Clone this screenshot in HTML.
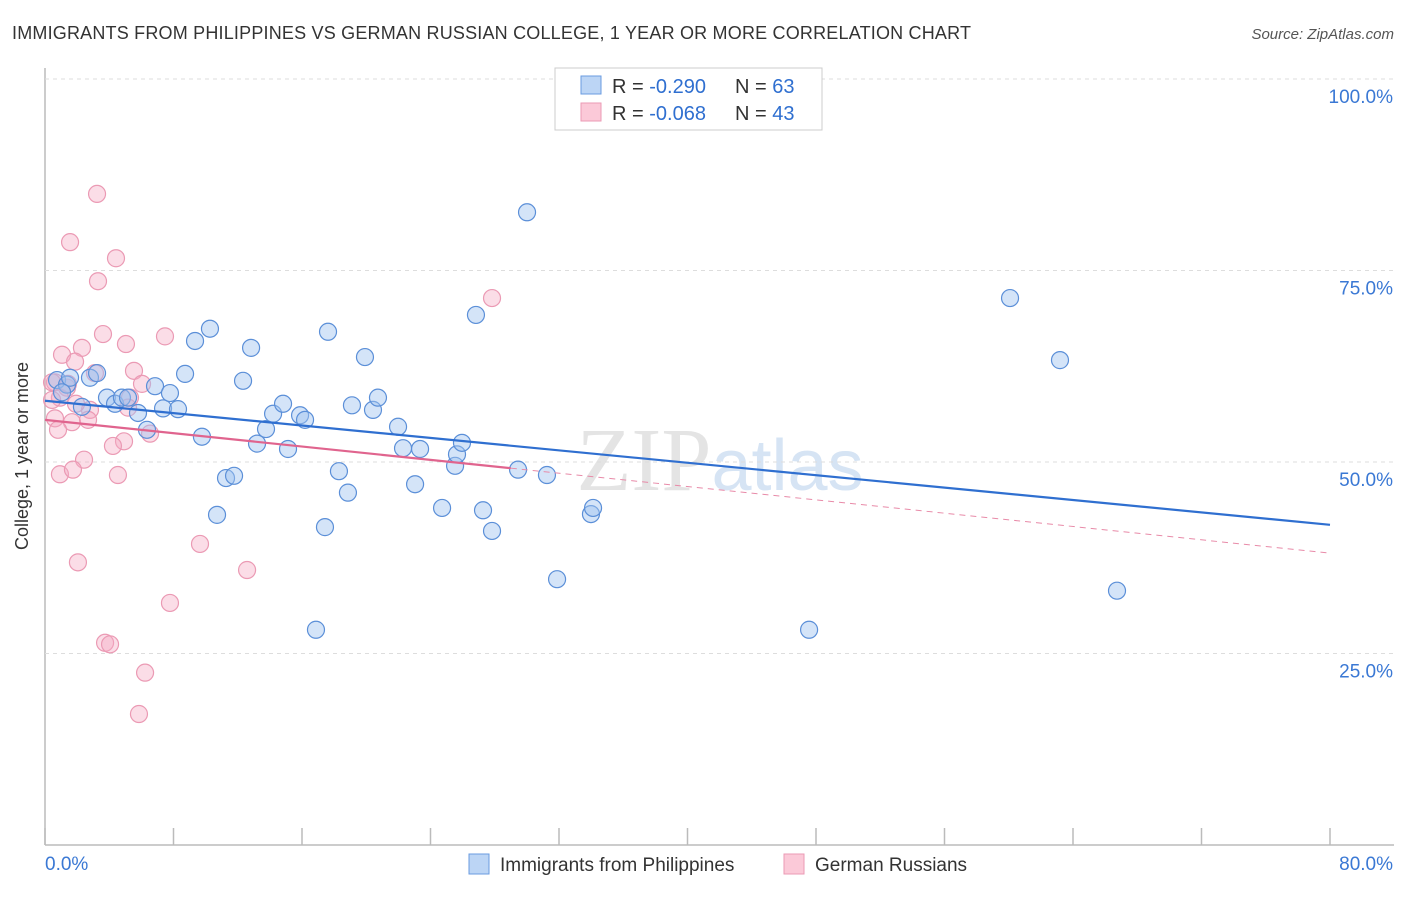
<!DOCTYPE html>
<html><head><meta charset="utf-8"><style>
body{margin:0;background:#fff;font-family:"Liberation Sans",sans-serif;}
</style></head><body>
<svg id="c" width="1406" height="892" style="font-family:'Liberation Sans',sans-serif">
<text x="12" y="39" font-size="18" textLength="959" fill="#333">IMMIGRANTS FROM PHILIPPINES VS GERMAN RUSSIAN COLLEGE, 1 YEAR OR MORE CORRELATION CHART</text>
<text x="1394" y="39" font-size="15" fill="#555" text-anchor="end" font-style="italic">Source: ZipAtlas.com</text>
<text x="720" y="490" font-size="90" fill="#e4e4e4" text-anchor="middle" font-family="Liberation Serif,serif">ZIP<tspan fill="#d6e4f4" font-family="Liberation Sans,sans-serif" font-size="72">atlas</tspan></text>
<text x="28" y="456" font-size="18" fill="#333" text-anchor="middle" transform="rotate(-90 28 456)">College, 1 year or more</text>
<g id="grid"></g><g id="pts"></g><g id="lines"></g>
<g>
<rect x="555" y="68" width="267" height="62" fill="#fff" stroke="#ccc"/>
<rect x="581" y="76" width="20" height="18" fill="#bcd5f5" stroke="#6a9be0"/>
<rect x="581" y="103" width="20" height="18" fill="#fbc9d8" stroke="#eb9ab4"/>
<text x="612" y="93" font-size="20" fill="#333">R = <tspan fill="#2f6fd0">-0.290</tspan></text>
<text x="735" y="93" font-size="20" fill="#333">N = <tspan fill="#2f6fd0">63</tspan></text>
<text x="612" y="120" font-size="20" fill="#333">R = <tspan fill="#2f6fd0">-0.068</tspan></text>
<text x="735" y="120" font-size="20" fill="#333">N = <tspan fill="#2f6fd0">43</tspan></text>
</g>
<g>
<rect x="469" y="854" width="20" height="20" fill="#bcd5f5" stroke="#6a9be0"/>
<text x="500" y="871" font-size="19" fill="#333">Immigrants from Philippines</text>
<rect x="784" y="854" width="20" height="20" fill="#fbc9d8" stroke="#eb9ab4"/>
<text x="815" y="871" font-size="19" fill="#333">German Russians</text>
</g>
</svg>
<script>
const xTickLabels=["0.0%","80.0%"];
const yTicks=[25,50,75,100];
const blueX=[0.75,1.37,1.56,1.06,2.30,2.80,3.24,3.86,4.36,4.79,5.17,5.79,6.35,6.85,7.35,7.78,8.28,8.72,9.34,9.77,10.27,10.71,11.27,11.77,12.33,12.83,13.20,13.76,14.20,14.82,15.13,15.88,16.19,16.87,17.43,17.62,18.30,18.86,19.11,19.92,20.42,20.73,21.98,22.29,23.04,23.35,24.72,25.53,25.65,25.96,26.83,27.27,27.83,29.45,30.01,31.25,31.88,33.99,34.12,47.57,60.08,63.19,66.74];
const blueY=[60.7,60.1,61.0,59.1,57.2,61.0,61.6,58.4,57.6,58.4,58.4,56.4,54.2,59.9,57.0,59.0,56.9,61.5,65.8,53.3,67.4,43.1,47.9,48.2,60.6,64.9,52.4,54.3,56.3,57.6,51.7,56.1,55.5,28.1,41.5,67.0,48.8,46.0,57.4,63.7,56.8,58.4,54.6,51.8,47.1,51.7,44.0,49.5,51.0,52.5,69.2,43.7,41.0,49.0,82.6,48.3,34.7,43.2,44.0,28.1,71.4,63.3,33.2];
const pinkX=[3.24,1.56,4.42,3.30,3.61,7.47,5.04,1.06,2.30,1.87,5.54,6.04,3.11,0.62,1.37,0.93,0.44,5.29,5.17,2.80,0.62,1.68,2.68,6.54,0.81,4.92,4.23,2.43,0.93,1.74,4.54,27.83,9.65,12.58,2.05,7.78,3.74,4.05,6.23,5.85,1.43,1.93,0.44];
const pinkY=[85.0,78.7,76.6,73.6,66.7,66.4,65.4,64.0,64.9,63.1,61.9,60.2,61.6,60.4,59.7,58.4,58.1,58.4,57.1,56.8,55.7,55.2,55.5,53.7,54.2,52.7,52.1,50.3,48.4,49.0,48.3,71.4,39.3,35.9,36.9,31.6,26.4,26.2,22.5,17.1,60.2,57.6,60.4];
const blueTrend=[58.0,41.8];
const pinkTrend=[55.5,38.1];
const pinkSolidEnd=29;
const NS="http://www.w3.org/2000/svg";
const X0=45,X1=1330,Y0=845,Y100=79;
const sx=v=>X0+(v/80)*(X1-X0);
const sy=v=>Y0-(v/100)*(Y0-Y100);
function mk(t,a,p){const e=document.createElementNS(NS,t);for(const k in a)e.setAttribute(k,a[k]);p.appendChild(e);return e;}
const grid=document.getElementById('grid');
let ax=mk('line',{x1:X0,y1:68,x2:X0,y2:Y0,stroke:'#bbb','stroke-width':1.5},grid);


let bx=mk('line',{x1:X0,y1:Y0,x2:1394,y2:Y0,stroke:'#bbb','stroke-width':1.5},grid);


yTicks.forEach(t=>{
 const g=mk('line',{x1:X0,y1:sy(t),x2:1394,y2:sy(t),stroke:'#ddd','stroke-dasharray':'4,4'},grid);
 
 
 const l=mk('text',{x:1393,y:sy(t)+24,'font-size':19,fill:'#3a78d4','text-anchor':'end'},grid);
 l.textContent=t.toFixed(1)+'%';
 
 
});
for(let i=0;i<=10;i++){
 const tk=mk('line',{x1:sx(i*8),y1:828,x2:sx(i*8),y2:Y0,stroke:'#bbb','stroke-width':1.5},grid);
 
 
}
const xl0=mk('text',{x:45,y:870,'font-size':19,fill:'#3a78d4'},grid);xl0.textContent=xTickLabels[0];


const xl1=mk('text',{x:1393,y:870,'font-size':19,fill:'#3a78d4','text-anchor':'end'},grid);xl1.textContent=xTickLabels[1];


const pts=document.getElementById('pts');
pinkX.forEach((x,i)=>{const c=mk('circle',{cx:sx(x),cy:sy(pinkY[i]),r:8.5,fill:'rgba(245,170,195,0.4)',stroke:'#eb9ab4','stroke-width':1.2},pts);
 
 });
blueX.forEach((x,i)=>{const c=mk('circle',{cx:sx(x),cy:sy(blueY[i]),r:8.5,fill:'rgba(160,195,240,0.45)',stroke:'#5b8fd8','stroke-width':1.2},pts);
 
 });
const ln=document.getElementById('lines');
const b=mk('line',{x1:sx(0),y1:sy(blueTrend[0]),x2:sx(80),y2:sy(blueTrend[1]),stroke:'#2f6fd0','stroke-width':2.2},ln);


const pv=x=>pinkTrend[0]+(pinkTrend[1]-pinkTrend[0])*x/80;
const p1=mk('line',{x1:sx(0),y1:sy(pinkTrend[0]),x2:sx(pinkSolidEnd),y2:sy(pv(pinkSolidEnd)),stroke:'#e0648e','stroke-width':2.2},ln);


const p2=mk('line',{x1:sx(pinkSolidEnd),y1:sy(pv(pinkSolidEnd)),x2:sx(80),y2:sy(pinkTrend[1]),stroke:'#e88aa8','stroke-width':1,'stroke-dasharray':'6,5'},ln);


</script>
</body></html>
